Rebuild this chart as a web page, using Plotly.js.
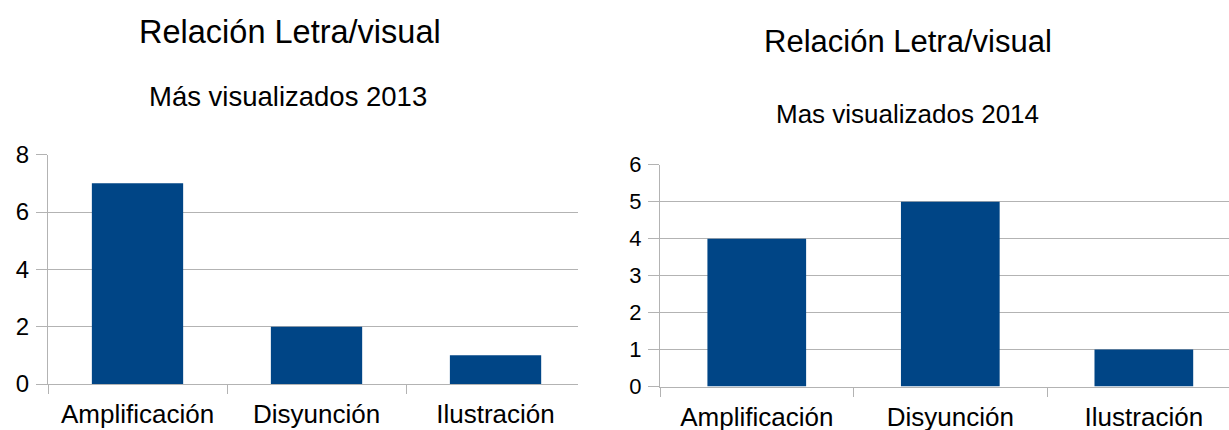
<!DOCTYPE html>
<html>
<head>
<meta charset="utf-8">
<script src="https://cdn.plot.ly/plotly-3.0.1.min.js"></script>
<style>html,body{margin:0;padding:0;background:#fff;}#chart{width:1229px;height:430px;}</style>
</head>
<body>
<div id="chart"></div>
<script>
const categories = ["Amplificación", "Disyunción", "Ilustración"];
const values2013 = [7, 2, 1];
const values2014 = [4, 5, 1];
const titleLeft = "Relación Letra/visual";
const subtitleLeft = "Más visualizados 2013";
const titleRight = "Relación Letra/visual";
const subtitleRight = "Mas visualizados 2014";
const yTicks2013 = [0, 2, 4, 6, 8];
const yTicks2014 = [0, 1, 2, 3, 4, 5, 6];

const W = 1229, H = 430;
const FONT = "Liberation Sans, Arial, sans-serif";
const BAR = "#004586";
const GRID = "#b3b3b3";
const px = x => x / W;
const py = y => 1 - y / H;

const traces = [
  {type: "bar", x: categories, y: values2013, xaxis: "x", yaxis: "y",
   marker: {color: BAR}, hoverinfo: "x+y", showlegend: false},
  {type: "bar", x: categories, y: values2014, xaxis: "x2", yaxis: "y2",
   marker: {color: BAR}, hoverinfo: "x+y", showlegend: false}
];

function xAx(domain, range) {
  return {domain: domain, range: range, type: "category",
    showline: true, linecolor: GRID, linewidth: 1,
    ticks: "outside", tickson: "boundaries", ticklen: 9, tickcolor: GRID,
    showgrid: false, zeroline: false,
    tickfont: {family: FONT, size: 26, color: "#000"},
    ticklabelstandoff: 7, fixedrange: true};
}
function yAx(domain, range, tickvals, size, anchor) {
  return {domain: domain, range: range, tickmode: "array", tickvals: tickvals,
    showline: true, linecolor: GRID, linewidth: 1,
    ticks: "outside", ticklen: 11, tickcolor: GRID,
    showgrid: true, gridcolor: GRID, gridwidth: 1, zeroline: false,
    tickfont: {family: FONT, size: size, color: "#000"},
    ticklabelstandoff: 2, anchor: anchor, fixedrange: true};
}

const layout = {
  width: W, height: H,
  margin: {l: 0, r: 0, t: 0, b: 0},
  paper_bgcolor: "#fff", plot_bgcolor: "#fff",
  bargap: 0.49,
  font: {family: FONT, color: "#000"},
  xaxis: xAx([px(48), px(577.7)], [-0.5, 2.459]),
  yaxis: yAx([py(384), py(154.7)], [0, 8], yTicks2013, 24, "x"),
  xaxis2: Object.assign(xAx([px(660), 1], [-0.5, 2.44]), {anchor: "y2"}),
  yaxis2: yAx([py(386.5), py(164.7)], [0, 6], yTicks2014, 22, "x2"),
  annotations: [
    {text: titleLeft, x: px(290), y: py(32), xref: "paper", yref: "paper",
     xanchor: "center", yanchor: "middle", showarrow: false,
     font: {family: FONT, size: 32.5, color: "#000"}},
    {text: subtitleLeft, x: px(288), y: py(96), xref: "paper", yref: "paper",
     xanchor: "center", yanchor: "middle", showarrow: false,
     font: {family: FONT, size: 27.5, color: "#000"}},
    {text: titleRight, x: px(908), y: py(41), xref: "paper", yref: "paper",
     xanchor: "center", yanchor: "middle", showarrow: false,
     font: {family: FONT, size: 31, color: "#000"}},
    {text: subtitleRight, x: px(908), y: py(114), xref: "paper", yref: "paper",
     xanchor: "center", yanchor: "middle", showarrow: false,
     font: {family: FONT, size: 26, color: "#000"}}
  ]
};

Plotly.newPlot("chart", traces, layout, {displayModeBar: false, staticPlot: true});
</script>
</body>
</html>
